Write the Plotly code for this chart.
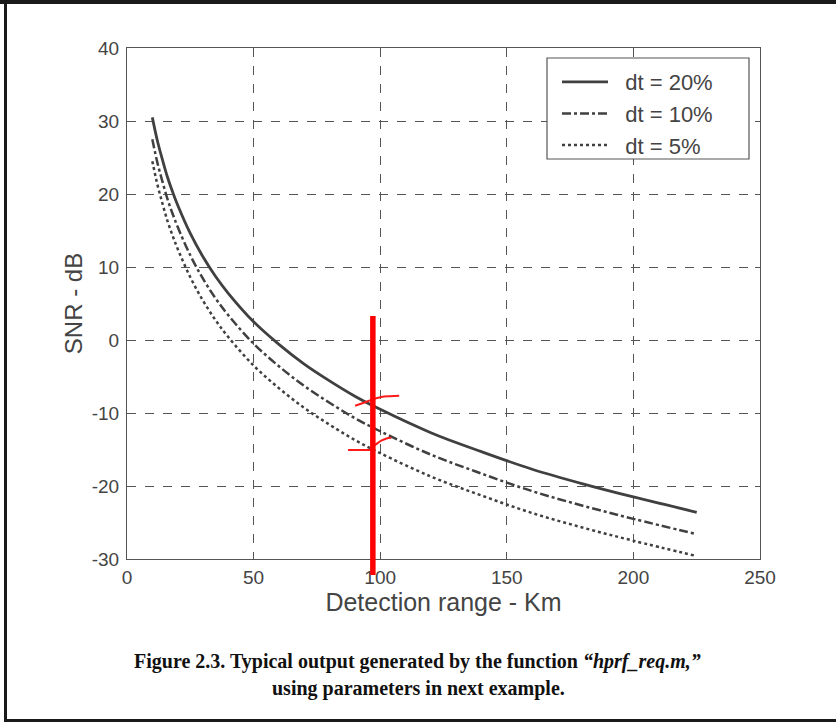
import plotly.graph_objects as go

# ---- data ----
range_km = [10, 12, 14, 16, 18, 20, 25, 30, 35, 40, 50, 60, 70, 80, 90, 100,
            120, 140, 160, 180, 200, 225]
snr_dt20 = [30.5, 27.3, 24.7, 22.3, 20.3, 18.5, 14.6, 11.4, 8.7, 6.4, 2.5, -0.6,
            -3.3, -5.6, -7.7, -9.5, -12.7, -15.3, -17.7, -19.7, -21.5, -23.6]
snr_dt10 = [27.5, 24.3, 21.7, 19.3, 17.3, 15.5, 11.6, 8.4, 5.7, 3.4, -0.5, -3.6,
            -6.3, -8.6, -10.7, -12.5, -15.7, -18.3, -20.7, -22.7, -24.5, -26.6]
snr_dt5 = [24.5, 21.3, 18.7, 16.3, 14.3, 12.5, 8.6, 5.4, 2.7, 0.4, -3.5, -6.6,
           -9.3, -11.6, -13.7, -15.5, -18.7, -21.3, -23.7, -25.7, -27.5, -29.6]
labels = ["dt = 20%", "dt = 10%", "dt = 5%"]
x_ticks = [0, 50, 100, 150, 200, 250]
y_ticks = [-30, -20, -10, 0, 10, 20, 30, 40]
y_tick_text = ["-30", "-20", "-10", "0", "10", "20", "30", "40"]

# hand-drawn red marks (data units)
red_bar_x = 97.1
red_bar_y = [3.3, -32.2]
mark1_x = [90.1, 93.5, 96.4, 100.4, 104.0, 107.5]
mark1_y = [-9.0, -8.6, -8.2, -7.8, -7.7, -7.65]
mark2a_x = [87.3, 97.2]
mark2a_y = [-15.07, -15.07]
mark2b_x = [96.0, 98.3, 100.4, 102.5, 104.4]
mark2b_y = [-14.8, -14.3, -13.8, -13.5, -13.4]

W, H = 836, 723
L, R, T, B = 127, 760, 48, 559
XR = [0, 250]
YR = [-30, 40]


def px_x(p):
    return (p - L) / (R - L)


def px_y(p):
    return (B - p) / (B - T)


def dx(v):
    return (v - XR[0]) / (XR[1] - XR[0])


def dy(v):
    return (v - YR[0]) / (YR[1] - YR[0])


LINE = "#404040"
fig = go.Figure()
styles = ["solid", "dashdot", "dot"]
widths = [2.8, 2.5, 2.5]
for ys, name, dash, w in zip([snr_dt20, snr_dt10, snr_dt5], labels, styles, widths):
    fig.add_trace(go.Scatter(x=range_km, y=ys, mode="lines", name="\u00a0\u00a0" + name,
                             line=dict(color=LINE, width=w, dash=dash, shape="spline")))

for mx, my in [(mark1_x, mark1_y), (mark2a_x, mark2a_y), (mark2b_x, mark2b_y)]:
    fig.add_trace(go.Scatter(x=mx, y=my, mode="lines", showlegend=False,
                             line=dict(color="#ff1a1a", width=2, shape="spline")))

shapes = [
    # legend frame
    dict(type="rect", xref="paper", yref="paper", x0=px_x(547), x1=px_x(749),
         y0=px_y(58), y1=px_y(159), line=dict(color="#555", width=1.2),
         fillcolor="white", layer="above"),
    # red vertical bar
    dict(type="line", xref="paper", yref="paper",
         x0=dx(red_bar_x), x1=dx(red_bar_x), y0=dy(red_bar_y[0]), y1=dy(red_bar_y[1]),
         line=dict(color="#ff0000", width=5.5), layer="above"),
    # outer frame (top, left, bottom)
    dict(type="line", xref="paper", yref="paper", x0=px_x(0), x1=px_x(836),
         y0=px_y(2), y1=px_y(2), line=dict(color="#1a1a1a", width=4)),
    dict(type="line", xref="paper", yref="paper", x0=px_x(5.5), x1=px_x(5.5),
         y0=px_y(0), y1=px_y(721), line=dict(color="#1a1a1a", width=3)),
    dict(type="line", xref="paper", yref="paper", x0=px_x(4), x1=px_x(836),
         y0=px_y(720.5), y1=px_y(720.5), line=dict(color="#1a1a1a", width=3)),
]

annotations = [
    dict(text="<b>Figure 2.3. Typical output generated by the function <i>“hprf_req.m,”</i></b>",
         xref="paper", yref="paper", x=px_x(417), y=px_y(661), showarrow=False,
         xanchor="center", yanchor="middle",
         font=dict(family="Liberation Serif", size=20, color="#111")),
    dict(text="<b>using parameters in next example.</b>",
         xref="paper", yref="paper", x=px_x(418), y=px_y(689), showarrow=False,
         xanchor="center", yanchor="middle",
         font=dict(family="Liberation Serif", size=20, color="#111")),
]

TICKFONT = dict(family="Liberation Sans", size=19, color="#444")
axis_common = dict(
    showline=True, linecolor="#555", linewidth=1.2, mirror="ticks",
    ticks="inside", ticklen=5, tickcolor="#555",
    showgrid=True, gridcolor="#555", griddash="dash", gridwidth=1,
    zeroline=False, tickfont=TICKFONT,
)

fig.update_layout(
    width=W, height=H,
    margin=dict(l=L, r=W - R, t=T, b=H - B),
    paper_bgcolor="white", plot_bgcolor="white",
    xaxis=dict(range=XR, tickvals=x_ticks, ticklabelstandoff=1,
               title=dict(text="Detection range - Km", standoff=4,
                          font=dict(family="Liberation Sans", size=25, color="#444")),
               **axis_common),
    yaxis=dict(range=YR, tickvals=y_ticks, ticktext=y_tick_text, ticklabelstandoff=3,
               title=dict(text="SNR - dB", standoff=2,
                          font=dict(family="Liberation Sans", size=24, color="#444")),
               **axis_common),
    legend=dict(x=px_x(557), y=px_y(61), xanchor="left", yanchor="top",
                bgcolor="rgba(0,0,0,0)", borderwidth=0,
                font=dict(family="Liberation Sans", size=22, color="#444"),
                itemwidth=46),
    shapes=shapes,
    annotations=annotations,
    showlegend=True,
)

fig.write_html("out.html")
